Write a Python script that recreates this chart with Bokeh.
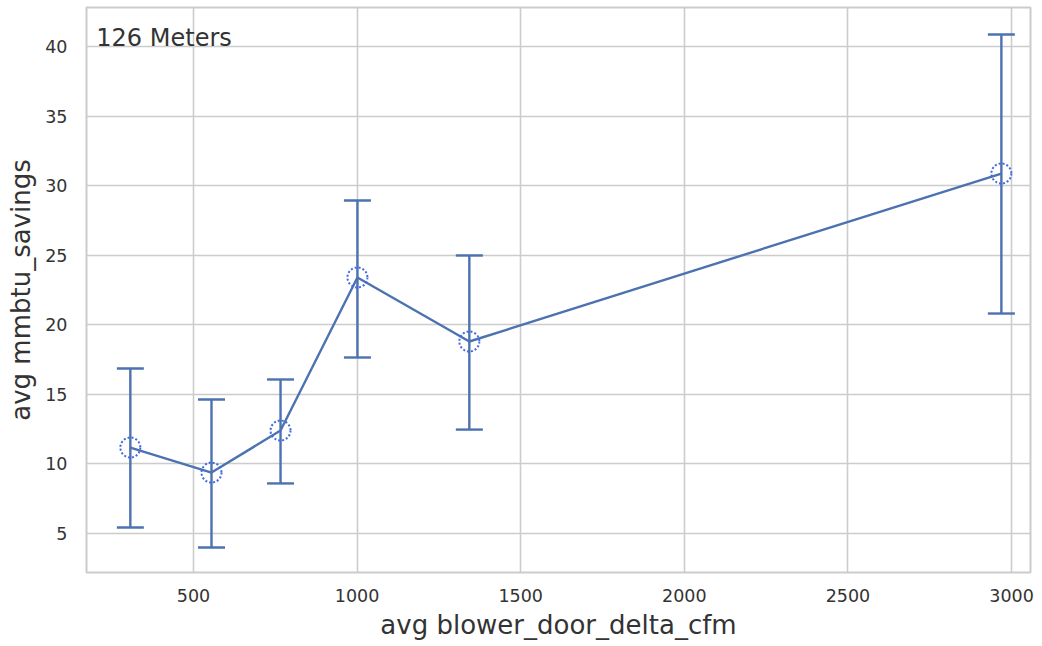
from bokeh.plotting import figure
from bokeh.models import ColumnDataSource, Whisker, TeeHead, Range1d, FixedTicker, Label
from bokeh.embed import file_html
from bokeh.resources import INLINE

cfm = [307, 555, 766, 1001, 1343, 2969]
savings = [11.18, 9.38, 12.4, 23.4, 18.8, 30.87]
upper = [16.86, 14.63, 16.07, 28.93, 24.98, 40.86]
lower = [5.43, 4.0, 8.6, 17.65, 12.47, 20.81]
x_ticks = [500, 1000, 1500, 2000, 2500, 3000]
y_ticks = [5, 10, 15, 20, 25, 30, 35, 40]
annotation = "126 Meters"

COLOR = "#4c72b0"
MARKER = "#4169e1"
GRID = "#cccccc"
TEXT = "#333333"
FONT = "DejaVu Sans"

src = ColumnDataSource(dict(x=cfm, y=savings, upper=upper, lower=lower))

p = figure(width=1042, height=646, output_backend="svg", toolbar_location=None,
           x_range=Range1d(173, 3058), y_range=Range1d(2.2, 42.8),
           min_border_left=86, min_border_right=12, min_border_top=7, min_border_bottom=74)
p.background_fill_color = "white"
p.border_fill_color = "white"
p.outline_line_color = GRID
p.outline_line_width = 2

for ax in (p.xaxis[0], p.yaxis[0]):
    ax.axis_line_color = None
    ax.major_tick_line_color = None
    ax.minor_tick_line_color = None
    ax.major_label_text_font = FONT
    ax.major_label_text_font_size = "17.5px"
    ax.major_label_text_color = TEXT
    ax.axis_label_text_font = FONT
    ax.axis_label_text_font_size = "26px"
    ax.axis_label_text_color = TEXT
    ax.axis_label_text_font_style = "normal"

p.xaxis.ticker = FixedTicker(ticks=x_ticks)
p.yaxis.ticker = FixedTicker(ticks=y_ticks)
p.xaxis.axis_label = "avg blower_door_delta_cfm"
p.yaxis.axis_label = "avg mmbtu_savings"
p.xaxis.major_label_standoff = 10
p.yaxis.major_label_standoff = 13
p.xaxis.axis_label_standoff = 5
p.yaxis.axis_label_standoff = 6

p.grid.grid_line_color = GRID
p.grid.grid_line_width = 1.6

w = Whisker(source=src, base="x", upper="upper", lower="lower",
            line_color=COLOR, line_width=2.4,
            upper_head=TeeHead(size=27, line_color=COLOR, line_width=2.4),
            lower_head=TeeHead(size=27, line_color=COLOR, line_width=2.4))
p.add_layout(w)

p.line("x", "y", source=src, line_color=COLOR, line_width=2.4)
p.scatter("x", "y", source=src, size=20, fill_color="white", fill_alpha=0.0,
          line_color=MARKER, line_width=2, line_dash="2 2")

p.add_layout(Label(x=203, y=41.65, text=annotation, text_baseline="top",
                   text_font=FONT, text_font_size="24px", text_color=TEXT))

open("out.html", "w").write(file_html(p, INLINE))
